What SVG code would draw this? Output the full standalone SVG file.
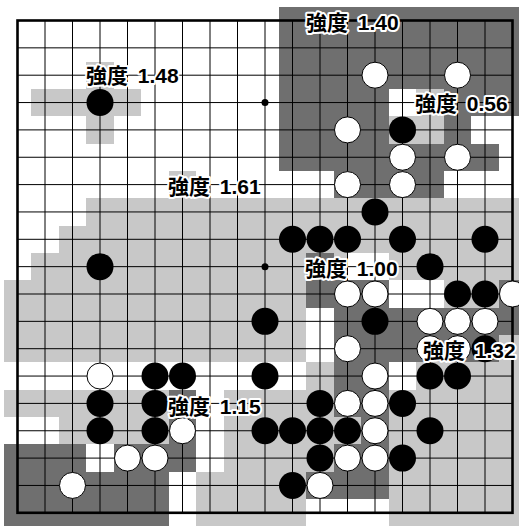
<svg xmlns="http://www.w3.org/2000/svg" width="519" height="527" viewBox="0 0 519 527">
<style>
.L{fill:#c8c8c8}
.D{fill:#6f6f6f}
.g{stroke:#000;stroke-width:1;fill:none}
.b{fill:#000}
.w{fill:#fff;stroke:#000;stroke-width:1}
.lbl{font-family:"Liberation Sans","Noto Sans CJK JP",sans-serif;font-size:21px;font-weight:bold;fill:#000;stroke:#fff;stroke-width:4;stroke-linejoin:round;paint-order:stroke}
</style>
<rect x="0" y="0" width="519" height="527" fill="#fff"/>
<g id="shading" shape-rendering="crispEdges">
<rect class="D" x="278.75" y="6.83" width="247.5" height="82.05"/>
<rect class="L" x="86.25" y="61.53" width="27.5" height="27.35"/>
<rect class="L" x="31.25" y="88.88" width="110" height="27.35"/>
<rect class="D" x="278.75" y="88.88" width="110" height="27.35"/>
<rect class="L" x="416.25" y="88.88" width="27.5" height="27.35"/>
<rect class="D" x="443.75" y="88.88" width="82.5" height="27.35"/>
<rect class="L" x="86.25" y="116.23" width="27.5" height="27.35"/>
<rect class="D" x="278.75" y="116.23" width="110" height="27.35"/>
<rect class="L" x="388.75" y="116.23" width="55" height="27.35"/>
<rect class="D" x="443.75" y="116.23" width="27.5" height="27.35"/>
<rect class="D" x="278.75" y="143.58" width="220" height="27.35"/>
<rect class="L" x="168.75" y="170.93" width="27.5" height="27.35"/>
<rect class="D" x="333.75" y="170.93" width="110" height="27.35"/>
<rect class="L" x="86.25" y="198.28" width="440" height="27.35"/>
<rect class="L" x="58.75" y="225.63" width="467.5" height="27.35"/>
<rect class="L" x="31.25" y="252.98" width="275" height="27.35"/>
<rect class="D" x="306.25" y="252.98" width="27.5" height="27.35"/>
<rect class="L" x="333.75" y="252.98" width="13.75" height="27.35"/>
<rect class="L" x="388.75" y="252.98" width="137.5" height="27.35"/>
<rect class="L" x="3.75" y="280.33" width="302.5" height="27.35"/>
<rect class="D" x="306.25" y="280.33" width="82.5" height="27.35"/>
<rect class="L" x="443.75" y="280.33" width="55" height="27.35"/>
<rect class="D" x="498.75" y="280.33" width="27.5" height="27.35"/>
<rect class="L" x="3.75" y="307.68" width="302.5" height="54.7"/>
<rect class="D" x="333.75" y="307.68" width="192.5" height="27.35"/>
<rect class="D" x="333.75" y="335.03" width="165" height="27.35"/>
<rect class="L" x="498.75" y="335.03" width="27.5" height="27.35"/>
<rect class="L" x="306.25" y="362.38" width="27.5" height="27.35"/>
<rect class="D" x="333.75" y="362.38" width="55" height="27.35"/>
<rect class="L" x="416.25" y="362.38" width="110" height="27.35"/>
<rect class="L" x="3.75" y="389.73" width="165" height="27.35"/>
<rect class="D" x="168.75" y="389.73" width="27.5" height="54.7"/>
<rect class="L" x="223.75" y="389.73" width="110" height="27.35"/>
<rect class="D" x="333.75" y="389.73" width="55" height="27.35"/>
<rect class="L" x="388.75" y="389.73" width="137.5" height="136.75"/>
<rect class="L" x="58.75" y="417.08" width="110" height="27.35"/>
<rect class="L" x="223.75" y="417.08" width="137.5" height="27.35"/>
<rect class="D" x="361.25" y="417.08" width="27.5" height="27.35"/>
<rect class="D" x="3.75" y="444.43" width="82.5" height="27.35"/>
<rect class="D" x="113.75" y="444.43" width="82.5" height="27.35"/>
<rect class="L" x="223.75" y="444.43" width="110" height="27.35"/>
<rect class="D" x="333.75" y="444.43" width="55" height="27.35"/>
<rect class="D" x="3.75" y="471.78" width="165" height="54.7"/>
<rect class="L" x="196.25" y="471.78" width="110" height="54.7"/>
<rect class="D" x="306.25" y="471.78" width="82.5" height="27.35"/>
</g>
<g id="grid" class="g">
<path d="M45 20.5V512.8M72.5 20.5V512.8M100 20.5V512.8M127.5 20.5V512.8M155 20.5V512.8M182.5 20.5V512.8M210 20.5V512.8M237.5 20.5V512.8M265 20.5V512.8M292.5 20.5V512.8M320 20.5V512.8M347.5 20.5V512.8M375 20.5V512.8M402.5 20.5V512.8M430 20.5V512.8M457.5 20.5V512.8M485 20.5V512.8"/>
<path d="M17.5 47.85H512.5M17.5 75.2H512.5M17.5 102.55H512.5M17.5 129.9H512.5M17.5 157.25H512.5M17.5 184.6H512.5M17.5 211.95H512.5M17.5 239.3H512.5M17.5 266.65H512.5M17.5 294H512.5M17.5 321.35H512.5M17.5 348.7H512.5M17.5 376.05H512.5M17.5 403.4H512.5M17.5 430.75H512.5M17.5 458.1H512.5M17.5 485.45H512.5"/>
<rect x="17.5" y="20.5" width="495" height="492.3" stroke-width="2.6"/>
<circle cx="265" cy="102.55" r="3.5" fill="#000" stroke="none"/>
<circle cx="265" cy="266.65" r="3.5" fill="#000" stroke="none"/>
</g>
<g id="black-stones" class="b">
<circle cx="100" cy="102.55" r="13.5"/>
<circle cx="402.5" cy="129.9" r="13.5"/>
<circle cx="375" cy="211.95" r="13.5"/>
<circle cx="292.5" cy="239.3" r="13.5"/>
<circle cx="320" cy="239.3" r="13.5"/>
<circle cx="347.5" cy="239.3" r="13.5"/>
<circle cx="402.5" cy="239.3" r="13.5"/>
<circle cx="485" cy="239.3" r="13.5"/>
<circle cx="100" cy="266.65" r="13.5"/>
<circle cx="430" cy="266.65" r="13.5"/>
<circle cx="457.5" cy="294" r="13.5"/>
<circle cx="485" cy="294" r="13.5"/>
<circle cx="265" cy="321.35" r="13.5"/>
<circle cx="375" cy="321.35" r="13.5"/>
<circle cx="485" cy="348.7" r="13.5"/>
<circle cx="155" cy="376.05" r="13.5"/>
<circle cx="182.5" cy="376.05" r="13.5"/>
<circle cx="265" cy="376.05" r="13.5"/>
<circle cx="430" cy="376.05" r="13.5"/>
<circle cx="457.5" cy="376.05" r="13.5"/>
<circle cx="100" cy="403.4" r="13.5"/>
<circle cx="155" cy="403.4" r="13.5"/>
<circle cx="320" cy="403.4" r="13.5"/>
<circle cx="402.5" cy="403.4" r="13.5"/>
<circle cx="100" cy="430.75" r="13.5"/>
<circle cx="155" cy="430.75" r="13.5"/>
<circle cx="265" cy="430.75" r="13.5"/>
<circle cx="292.5" cy="430.75" r="13.5"/>
<circle cx="320" cy="430.75" r="13.5"/>
<circle cx="347.5" cy="430.75" r="13.5"/>
<circle cx="430" cy="430.75" r="13.5"/>
<circle cx="320" cy="458.1" r="13.5"/>
<circle cx="402.5" cy="458.1" r="13.5"/>
<circle cx="292.5" cy="485.45" r="13.5"/>
</g>
<g id="white-stones" class="w">
<circle cx="375" cy="75.2" r="13"/>
<circle cx="457.5" cy="75.2" r="13"/>
<circle cx="347.5" cy="129.9" r="13"/>
<circle cx="402.5" cy="157.25" r="13"/>
<circle cx="457.5" cy="157.25" r="13"/>
<circle cx="347.5" cy="184.6" r="13"/>
<circle cx="402.5" cy="184.6" r="13"/>
<circle cx="347.5" cy="294" r="13"/>
<circle cx="375" cy="294" r="13"/>
<circle cx="512.5" cy="294" r="13"/>
<circle cx="430" cy="321.35" r="13"/>
<circle cx="457.5" cy="321.35" r="13"/>
<circle cx="485" cy="321.35" r="13"/>
<circle cx="347.5" cy="348.7" r="13"/>
<circle cx="430" cy="348.7" r="13"/>
<circle cx="457.5" cy="348.7" r="13"/>
<circle cx="100" cy="376.05" r="13"/>
<circle cx="375" cy="376.05" r="13"/>
<circle cx="347.5" cy="403.4" r="13"/>
<circle cx="375" cy="403.4" r="13"/>
<circle cx="182.5" cy="430.75" r="13"/>
<circle cx="375" cy="430.75" r="13"/>
<circle cx="127.5" cy="458.1" r="13"/>
<circle cx="155" cy="458.1" r="13"/>
<circle cx="347.5" cy="458.1" r="13"/>
<circle cx="375" cy="458.1" r="13"/>
<circle cx="72.5" cy="485.45" r="13"/>
<circle cx="320" cy="485.45" r="13"/>
</g>
<g id="labels">
<text class="lbl" x="86" y="83">強度<tspan dx="4"> 1.48</tspan></text>
<text class="lbl" x="306" y="30">強度<tspan dx="4"> 1.40</tspan></text>
<text class="lbl" x="415" y="111">強度<tspan dx="4"> 0.56</tspan></text>
<text class="lbl" x="168" y="194">強度<tspan dx="4"> 1.61</tspan></text>
<text class="lbl" x="305" y="276">強度<tspan dx="4"> 1.00</tspan></text>
<text class="lbl" x="423" y="358">強度<tspan dx="4"> 1.32</tspan></text>
<text class="lbl" x="168" y="414">強度<tspan dx="4"> 1.15</tspan></text>
</g>
</svg>
